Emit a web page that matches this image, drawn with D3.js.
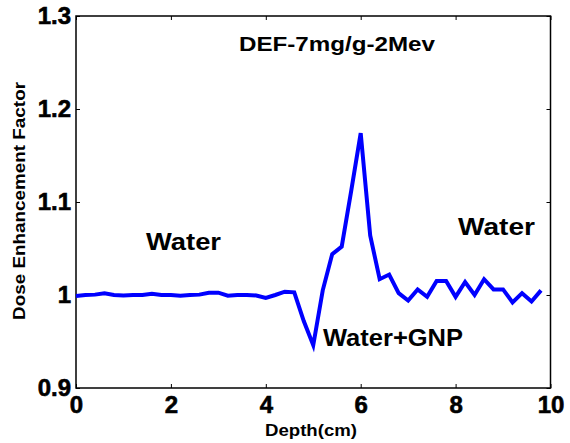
<!DOCTYPE html>
<html>
<head>
<meta charset="utf-8">
<script src="https://cdn.jsdelivr.net/npm/d3@7"></script>
<style>
  body { margin: 0; background: #fff; }
  text { font-family: Arial, "Liberation Sans", sans-serif; font-weight: bold; }
</style>
</head>
<body>
<script>
'use strict';

// depth (cm) and dose enhancement factor
const depth = [0, 0.2, 0.4, 0.6, 0.8, 1.0, 1.2, 1.4, 1.6, 1.8,
    2.0, 2.2, 2.4, 2.6, 2.8, 3.0, 3.2, 3.4, 3.6, 3.8,
    4.0, 4.2, 4.4, 4.6, 4.8, 5.0, 5.2, 5.4, 5.6, 5.8,
    6.0, 6.2, 6.4, 6.6, 6.8, 7.0, 7.2, 7.4, 7.6, 7.8,
    8.0, 8.2, 8.4, 8.6, 8.8, 9.0, 9.2, 9.4, 9.6, 9.8];
const def = [0.999, 1.000, 1.0004, 1.0018, 1.000, 0.9995, 1.000, 1.000, 1.0014, 1.000,
    1.000, 0.9993, 1.000, 1.0004, 1.0025, 1.0025, 0.9993, 1.000, 1.000, 0.9995,
    0.9968, 1.000, 1.0036, 1.0029, 0.972, 0.946, 1.005, 1.044, 1.052, 1.112,
    1.174, 1.064, 1.017, 1.022, 1.002, 0.994, 1.006, 0.998, 1.015, 1.015,
    0.998, 1.014, 1.000, 1.017, 1.006, 1.006, 0.992, 1.002, 0.993, 1.005];

const xTicks = [0, 2, 4, 6, 8, 10];
const yTicks = [0.9, 1.0, 1.1, 1.2, 1.3];
const yTickLabels = ['0.9', '1', '1.1', '1.2', '1.3'];

const width = 570, height = 443;
const margin = { top: 16, right: 19.5, bottom: 55, left: 76 };

const svg = d3.select('body').append('svg')
    .attr('width', width)
    .attr('height', height);

const x = d3.scaleLinear().domain([0, 10]).range([margin.left, width - margin.right]);
const y = d3.scaleLinear().domain([0.9, 1.3]).range([height - margin.bottom, margin.top]);

// axes with inward ticks on all four sides
function styleAxis(g) {
    g.select('.domain').remove();
    g.selectAll('.tick line').attr('stroke', '#000').attr('stroke-width', 1);
    g.selectAll('.tick text')
        .style('font-size', '24px')
        .style('font-weight', 'bold')
        .attr('fill', '#000')
        .attr('stroke', '#000')
        .attr('stroke-width', 0.6);
}

svg.append('g')
    .attr('transform', `translate(0,${y(0.9)})`)
    .call(d3.axisBottom(x).tickValues(xTicks).tickSizeInner(-4).tickSizeOuter(0).tickPadding(8))
    .call(styleAxis);

svg.append('g')
    .attr('transform', `translate(0,${y(1.3)})`)
    .call(d3.axisTop(x).tickValues(xTicks).tickSizeInner(-4).tickSizeOuter(0).tickFormat(''))
    .call(styleAxis);

svg.append('g')
    .attr('transform', `translate(${x(0)},0)`)
    .call(d3.axisLeft(y).tickValues(yTicks).tickSizeInner(-4).tickSizeOuter(0).tickPadding(5)
        .tickFormat((d, i) => yTickLabels[i]))
    .call(styleAxis);

svg.append('g')
    .attr('transform', `translate(${x(10)},0)`)
    .call(d3.axisRight(y).tickValues(yTicks).tickSizeInner(-4).tickSizeOuter(0).tickFormat(''))
    .call(styleAxis);

// box
svg.append('rect')
    .attr('x', x(0))
    .attr('y', y(1.3))
    .attr('width', x(10) - x(0))
    .attr('height', y(0.9) - y(1.3))
    .attr('fill', 'none')
    .attr('stroke', '#000')
    .attr('stroke-width', 1.5);

// the curve
const line = d3.line()
    .x((d, i) => x(depth[i]))
    .y(d => y(d));

svg.append('path')
    .datum(def)
    .attr('d', line)
    .attr('fill', 'none')
    .attr('stroke', '#0000ff')
    .attr('stroke-width', 4)
    .attr('stroke-linejoin', 'miter');

// labels
function label(txt, px, py, size, len, anchor) {
    svg.append('text')
        .attr('x', px)
        .attr('y', py)
        .attr('text-anchor', anchor || 'start')
        .attr('textLength', len)
        .attr('lengthAdjust', 'spacingAndGlyphs')
        .style('font-size', size + 'px')
        .text(txt);
}

label('DEF-7mg/g-2Mev', 239, 50.5, 21, 196);
label('Water', 146, 250, 24, 75);
label('Water', 458, 235, 24, 77);
label('Water+GNP', 323, 346, 24, 140);

svg.append('text')
    .attr('x', 311)
    .attr('y', 436)
    .attr('text-anchor', 'middle')
    .attr('textLength', 92)
    .attr('lengthAdjust', 'spacingAndGlyphs')
    .style('font-size', '16px')
    .text('Depth(cm)');

svg.append('text')
    .attr('transform', 'translate(25,201)rotate(-90)')
    .attr('text-anchor', 'middle')
    .attr('textLength', 238)
    .attr('lengthAdjust', 'spacingAndGlyphs')
    .style('font-size', '16px')
    .text('Dose Enhancement Factor');
</script>
</body>
</html>
